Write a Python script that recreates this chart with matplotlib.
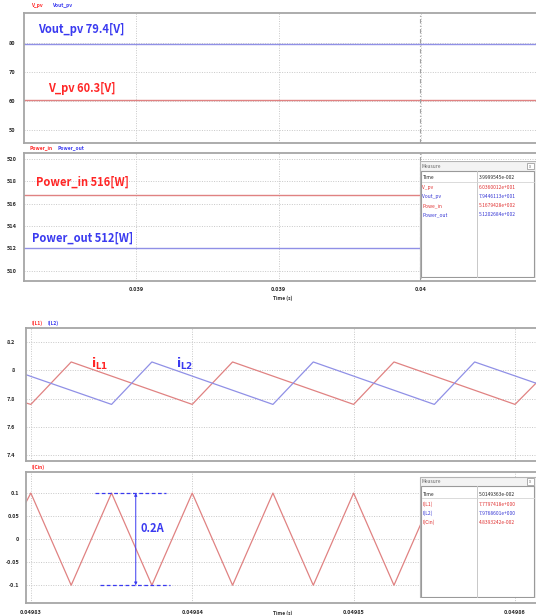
import math
import matplotlib
matplotlib.use("Agg")
import matplotlib.pyplot as plt
from matplotlib.patches import Rectangle

W, H = 536, 615
plt.rcParams['font.family'] = ['Noto Sans CJK KR', 'DejaVu Sans']

RED_LINE = '#e08282'
BLUE_LINE = '#9090e6'
RED_TXT = '#ff2626'
BLUE_TXT = '#3a3af0'
GRID = '#c8c8c8'
SPINE = '#a6a6a6'
TICK_TXT = '#2a2a2a'

# ---- upper window: PV voltages and powers (values from the Measure cursor) ----
T_CURSOR_TOP = 0.039999545
V_PV = 60.360012
VOUT_PV = 79.446113
P_IN = 516.79428
P_OUT = 512.02684

top_xticks = [0.0398, 0.0399, 0.0400]
top_xticklabels = ['0.039', '0.039', '0.04']
v_yticks = [50, 60, 70, 80]
p_yticks = [510, 512, 514, 516, 518, 520]

# ---- lower window: inductor and input-capacitor currents (waveform vertices) ----
t_L1 = [0.0498297, 0.04983, 0.0498325, 0.04984, 0.0498425, 0.04985, 0.0498525, 0.04986, 0.0498613]
i_L1 = [7.77, 7.76, 8.06, 7.76, 8.06, 7.76, 8.06, 7.76, 7.91]
t_L2 = [0.0498297, 0.049835, 0.0498375, 0.049845, 0.0498475, 0.049855, 0.0498575, 0.0498613]
i_L2 = [7.97, 7.76, 8.06, 7.76, 8.06, 7.76, 8.06, 7.91]
t_Cin = [0.0498297, 0.04983, 0.0498325, 0.049835, 0.0498375, 0.04984, 0.0498425, 0.049845,
         0.0498475, 0.04985, 0.0498525, 0.049855, 0.0498575, 0.04986, 0.0498613]
i_Cin = [0.08, 0.1, -0.1, 0.1, -0.1, 0.1, -0.1, 0.1, -0.1, 0.1, -0.1, 0.1, -0.1, 0.1, 0.0]

bot_xticks = [0.04983, 0.04984, 0.04985, 0.04986]
bot_xticklabels = ['0.04983', '0.04984', '0.04985', '0.04986']
il_yticks = [7.4, 7.6, 7.8, 8.0, 8.2]
il_yticklabels = ['7.4', '7.6', '7.8', '8', '8.2']
ic_yticks = [-0.1, -0.05, 0.0, 0.05, 0.1]
ic_yticklabels = ['-0.1', '-0.05', '0', '0.05', '0.1']
IC_PEAK, IC_VALLEY = 0.1, -0.1

T_CURSOR_BOT = 0.050149363
I_L1_M = 7.7797418
I_L2_M = 7.9768601
I_CIN_M = 0.048393242

fig = plt.figure(figsize=(W / 100, H / 100), dpi=100)


def px_axes(x0, y0, x1, y1, **kw):
    return fig.add_axes([x0 / W, 1 - y1 / H, (x1 - x0) / W, (y1 - y0) / H], **kw)


def style(ax, xlim, ylim, xticks, yticks, yticklabels, xticklabels=None, ypad=5, xpad=4):
    ax.set_xlim(*xlim)
    ax.set_ylim(*ylim)
    ax.set_xticks(xticks)
    ax.set_yticks(yticks)
    ax.set_yticklabels(yticklabels)
    if xticklabels is None:
        ax.set_xticklabels([])
    else:
        ax.set_xticklabels(xticklabels)
    ax.grid(True, linestyle=(0, (1.0, 1.5)), color=GRID, linewidth=0.7)
    ax.set_axisbelow(True)
    for side in ('left', 'top', 'bottom'):
        ax.spines[side].set_color(SPINE)
        ax.spines[side].set_linewidth(1.3)
    ax.spines['right'].set_visible(False)
    ax.tick_params(axis='both', length=0, labelsize=4, colors=TICK_TXT)
    ax.tick_params(axis='y', pad=ypad)
    ax.tick_params(axis='x', pad=xpad)
    for lab in ax.get_xticklabels() + ax.get_yticklabels():
        lab.set_fontweight('bold')


def trunc(v, nd):
    f = 10 ** nd
    return math.floor(v * f) / f


def sci(v):
    m, e = f"{v:.7e}".split('e')
    return f"{m}e{int(e):+04d}"


top_xlim = (0.0397214, 0.0400807)
bot_xlim = (0.0498297, 0.0498613)
ANN = dict(fontsize=8, fontweight='bold', va='bottom')

# Panel 1: voltages
ax1 = px_axes(24, 13, 536, 143)
style(ax1, top_xlim, (45.5, 90.3), top_xticks, v_yticks, [str(v) for v in v_yticks], ypad=6)
ax1.axhline(VOUT_PV, color=BLUE_LINE, lw=1.0)
ax1.axhline(V_PV, color=RED_LINE, lw=1.0)
ax1.axvline(T_CURSOR_TOP, color='#a0a0a0', lw=0.8, linestyle=(0, (4, 2, 1, 2)))
ax1.text(0.0397315, VOUT_PV + 3.0, f"Vout_pv {trunc(VOUT_PV, 1):.1f}[V]", color=BLUE_TXT, **ANN)
ax1.text(0.0397380, V_PV + 1.8, f"V_pv {trunc(V_PV, 1):.1f}[V]", color=RED_TXT, **ANN)

# Panel 2: powers
ax2 = px_axes(24, 153, 536, 281)
style(ax2, top_xlim, (509.1, 520.5), top_xticks, p_yticks, [str(v) for v in p_yticks],
      xticklabels=top_xticklabels, ypad=5, xpad=4)
ax2.axhline(P_IN, color=RED_LINE, lw=1.0)
ax2.axhline(P_OUT, color=BLUE_LINE, lw=1.0)
ax2.axvline(T_CURSOR_TOP, color='#a0a0a0', lw=0.8, linestyle=(0, (4, 2, 1, 2)))
ax2.text(0.0397300, P_IN + 0.5, f"Power_in {int(trunc(P_IN, 0))}[W]", color=RED_TXT, **ANN)
ax2.text(0.0397270, P_OUT + 0.3, f"Power_out {int(trunc(P_OUT, 0))}[W]", color=BLUE_TXT, **ANN)

# Panel 3: inductor currents
ax3 = px_axes(26, 328, 536, 461)
style(ax3, bot_xlim, (7.36, 8.30), bot_xticks, il_yticks, il_yticklabels, ypad=8)
ax3.plot(t_L1, i_L1, color=RED_LINE, lw=0.9)
ax3.plot(t_L2, i_L2, color=BLUE_LINE, lw=0.9)
ax3.text(0.0498337, 8.045, r'$\mathbf{i_{L1}}$', color=RED_TXT, fontsize=9, va='center')
ax3.text(0.0498390, 8.045, r'$\mathbf{i_{L2}}$', color=BLUE_TXT, fontsize=9, va='center')

# Panel 4: input capacitor current
ax4 = px_axes(26, 472, 536, 603)
style(ax4, bot_xlim, (-0.1385, 0.1457), bot_xticks, ic_yticks, ic_yticklabels,
      xticklabels=bot_xticklabels, ypad=5, xpad=5)
ax4.plot(t_Cin, i_Cin, color=RED_LINE, lw=0.9)
ax4.plot([0.0498340, 0.0498384], [IC_PEAK, IC_PEAK], color=BLUE_TXT, lw=0.9, linestyle=(0, (3, 2)))
ax4.plot([0.0498343, 0.0498386], [IC_VALLEY, IC_VALLEY], color=BLUE_TXT, lw=0.9, linestyle=(0, (3, 2)))
ax4.annotate('', xy=(0.0498365, IC_PEAK), xytext=(0.0498365, IC_VALLEY),
             arrowprops=dict(arrowstyle='<|-|>', color=BLUE_TXT, lw=0.7,
                             mutation_scale=4, shrinkA=0, shrinkB=0))
ax4.text(0.0498368, 0.5 * (IC_PEAK + IC_VALLEY) + 0.023, f"{IC_PEAK - IC_VALLEY:.1f}A",
         color=BLUE_TXT, fontsize=8, fontweight='bold', va='center')

# channel names above each panel
def chan(x, y, s, c):
    fig.text(x / W, 1 - y / H, s, color=c, fontsize=3.5, fontweight='bold', va='center')

chan(31, 6, 'V_pv', RED_TXT)
chan(52, 6, 'Vout_pv', BLUE_TXT)
chan(30, 148, 'Power_in', RED_TXT)
chan(57, 148, 'Power_out', BLUE_TXT)
chan(32, 323, 'I(L1)', RED_TXT)
chan(48, 323, 'I(L2)', BLUE_TXT)
chan(32, 467, 'I(Cin)', RED_TXT)

fig.text(273 / W, 1 - 298 / H, 'Time (s)', color=TICK_TXT, fontsize=3.5, fontweight='bold', va='center')
fig.text(273 / W, 1 - 613 / H, 'Time (s)', color=TICK_TXT, fontsize=3.5, fontweight='bold', va='center')


# Measure windows
def measure_box(x0, y0, x1, y1, rows, row_y):
    w, h = x1 - x0, y1 - y0
    axm = px_axes(x0, y0, x1, y1)
    axm.set_xlim(0, w)
    axm.set_ylim(h, 0)
    axm.axis('off')
    axm.add_patch(Rectangle((0.5, 0.5), w - 1, h - 1, facecolor='#f3f3f3', edgecolor='#b4b4b4', lw=0.8))
    axm.add_patch(Rectangle((2, 10), w - 4, h - 11.5, facecolor='white', edgecolor='#9a9a9a', lw=0.8))
    axm.text(2.5, 5.3, 'Measure', fontsize=3.5, color='#666666', va='center')
    axm.add_patch(Rectangle((w - 9, 2), 7, 6.5, facecolor='white', edgecolor='#a0a0a0', lw=0.6))
    axm.text(w - 5.5, 5.3, 'x', fontsize=3.2, color='#777777', ha='center', va='center')
    axm.plot([58, 58], [10, h - 1.5], color='#c8c8c8', lw=0.7)
    axm.plot([2.5, w - 2.5], [row_y[0] + 4, row_y[0] + 4], color='#d4d4d4', lw=0.6)
    for (name, val, col), yy in zip(rows, row_y):
        axm.text(3.5, yy, name, fontsize=3.5, color=col, va='center')
        axm.text(60, yy, sci(val), fontsize=3.5, color=col, va='center')


measure_box(419, 161, 536, 278,
            [('Time', T_CURSOR_TOP, '#222222'),
             ('V_pv', V_PV, '#e03030'),
             ('Vout_pv', VOUT_PV, '#3434d4'),
             ('Powe_in', P_IN, '#e03030'),
             ('Power_out', P_OUT, '#3434d4')],
            [17, 26.5, 35.5, 44.5, 54])
measure_box(419, 476, 536, 598,
            [('Time', T_CURSOR_BOT, '#222222'),
             ('I(L1)', I_L1_M, '#e03030'),
             ('I(L2)', I_L2_M, '#3434d4'),
             ('I(Cin)', I_CIN_M, '#e03030')],
            [18, 28, 37.5, 46.5])

fig.savefig('out.png', dpi=100)
